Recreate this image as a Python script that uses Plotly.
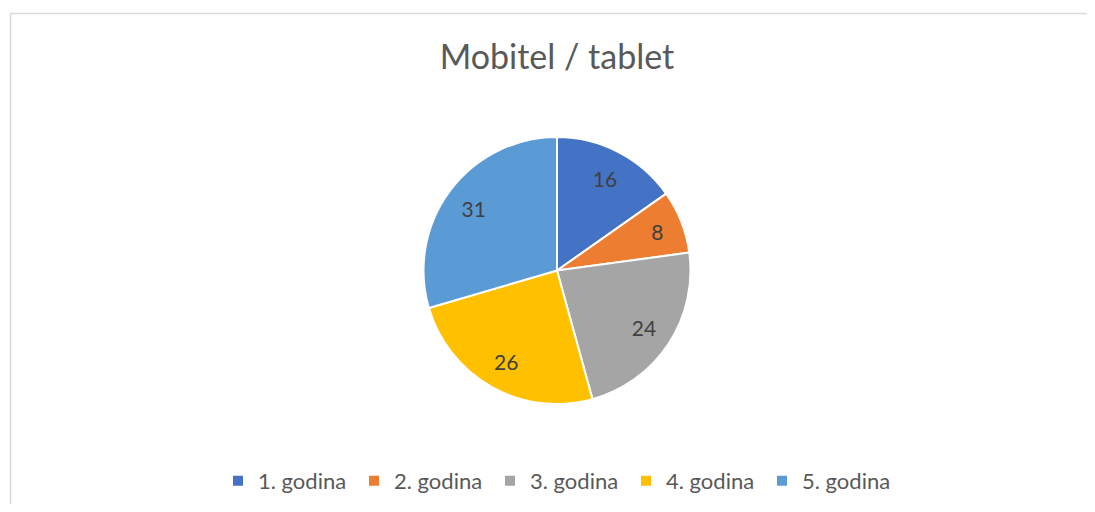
import plotly.graph_objects as go

categories = ["1. godina", "2. godina", "3. godina", "4. godina", "5. godina"]
values = [16, 8, 24, 26, 31]
colors = ["#4472C4", "#ED7D31", "#A5A5A5", "#FFC000", "#5B9BD5"]

# page body has an 8px margin; work in reference pixels minus 8
OFF = 8
W, H = 1095 - 2 * OFF, 512 - 2 * OFF
cx, cy, r = 557 - OFF, 270.5 - OFF, 133.5

dom = dict(x=[(cx - r) / W, (cx + r) / W], y=[1 - (cy + r) / H, 1 - (cy - r) / H])
FONT = "Lato, Open Sans, sans-serif"

fig = go.Figure()
fig.add_trace(go.Pie(
    labels=categories,
    values=values,
    sort=False,
    direction="clockwise",
    rotation=0,
    marker=dict(colors=colors, line=dict(color="white", width=2)),
    textinfo="none",
    domain=dom,
    hoverinfo="label+value",
))
# label layer: same data, transparent ring so text sits at ~0.78 radius
fig.add_trace(go.Pie(
    labels=categories,
    values=values,
    sort=False,
    direction="clockwise",
    rotation=0,
    hole=0.56,
    marker=dict(colors=["rgba(0,0,0,0)"] * len(values), line=dict(width=0)),
    textinfo="value",
    textposition="inside",
    insidetextorientation="horizontal",
    textfont=dict(family=FONT, size=21, color="#404040"),
    domain=dom,
    showlegend=False,
    hoverinfo="skip",
))

bx = (10.5 - OFF) / W
by = 1 - (13.5 - OFF) / H
fig.update_layout(
    width=W, height=H,
    margin=dict(l=0, r=0, t=0, b=0),
    paper_bgcolor="white",
    plot_bgcolor="white",
    title=dict(text="Mobitel / tablet", x=(557 - OFF) / W, xanchor="center",
               y=1 - (57 - OFF) / H, yanchor="middle",
               font=dict(family=FONT, size=34, color="#595959")),
    showlegend=True,
    legend=dict(orientation="h", x=(558 - OFF) / W, xanchor="center",
                y=1 - (481 - OFF) / H, yanchor="middle",
                font=dict(family=FONT, size=22, color="#595959"),
                entrywidth=91, itemwidth=30, traceorder="normal"),
    shapes=[
        dict(type="line", xref="paper", yref="paper", x0=bx, x1=1, y0=by, y1=by,
             line=dict(color="#D9D9D9", width=1.5), layer="below"),
        dict(type="line", xref="paper", yref="paper", x0=bx, x1=bx, y0=0, y1=by,
             line=dict(color="#D9D9D9", width=1.5), layer="below"),
    ],
)

fig.write_html("out.html")
